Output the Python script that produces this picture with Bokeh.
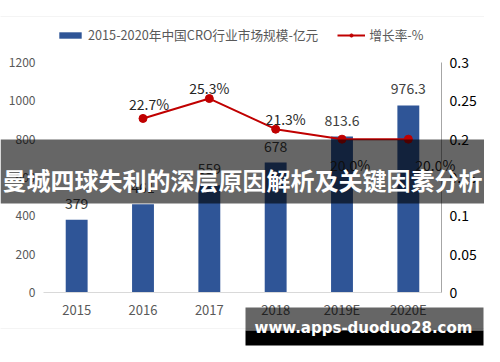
from bokeh.plotting import figure
from bokeh.models import (FactorRange, Range1d, LinearAxis, FixedTicker, CustomJSTickFormatter,
                          Legend, LegendItem, BoxAnnotation, Label, ColumnDataSource)
from bokeh.embed import file_html
from bokeh.resources import INLINE
from bokeh.core.properties import value

# ---------------- data ----------------
years = ["2015", "2016", "2017", "2018", "2019E", "2020E"]
market_size = [379, 461, 559, 678, 813.6, 976.3]
market_labels = ["379", "461", "559", "678", "813.6", "976.3"]
rate_years = ["2016", "2017", "2018", "2019E", "2020E"]
growth_rate = [0.227, 0.253, 0.213, 0.200, 0.200]
rate_labels = ["22.7%", "25.3%", "21.3%", "20.0%", "20.0%"]
left_ticks = [0, 200, 400, 600, 800, 1000, 1200]
right_ticks = [0, 0.05, 0.1, 0.15, 0.2, 0.25, 0.3]
bar_name = "2015-2020年中国CRO行业市场规模-亿元"
line_name = "增长率-%"
banner_text = "曼城四球失利的深层原因解析及关键因素分析"
watermark_text = "www.apps-duoduo28.com"

# label offsets (px) for the rate labels
rate_dx = [6, 0, 10, 8, 27]
rate_dy = [-14, -11, -10, 26, 26]

# ---------------- layout (canvas px) ----------------
FONT = "Noto Sans CJK SC"
W, H = 484, 346
FL, FR, FT, FB = 43, 441, 62, 292          # where the data area sits on the canvas
LMAX, RMAX = 1200, 0.3
BAR_COLOR = "#2F5597"
LINE_COLOR = "#C00000"

n = len(years)
cat_px = (FR - FL) / n
pad = FL / cat_px
ly = LMAX / (FB - FT)
ry = RMAX / (FB - FT)

p = figure(width=W, height=H,
           x_range=FactorRange(factors=years, range_padding=pad, range_padding_units="absolute"),
           y_range=Range1d(-(H - FB) * ly, LMAX + FT * ly),
           output_backend="svg", toolbar_location=None,
           min_border_left=0, min_border_right=0, min_border_top=0, min_border_bottom=0)
p.extra_y_ranges = {"rate": Range1d(-(H - FB) * ry, RMAX + FT * ry)}
p.outline_line_color = None
p.xgrid.visible = False
p.ygrid.visible = False
p.background_fill_color = "white"
p.border_fill_color = "white"

# left axis
yax = p.yaxis[0]
yax.fixed_location = 0
yax.bounds = (0, LMAX)
yax.ticker = FixedTicker(ticks=left_ticks)
yax.axis_line_color = None
yax.major_tick_line_color = None
yax.minor_tick_line_color = None
yax.major_tick_out = 0
yax.major_tick_in = 0
yax.major_label_standoff = 8
yax.major_label_text_font = FONT
yax.major_label_text_font_size = "12px"
yax.major_label_text_color = "#595959"

# bottom axis
xax = p.xaxis[0]
xax.fixed_location = 0
xax.bounds = (0, n)
xax.axis_line_color = "#d9d9d9"
xax.axis_line_width = 1
xax.major_tick_line_color = None
xax.minor_tick_line_color = None
xax.major_tick_out = 0
xax.major_tick_in = 0
xax.major_label_standoff = 7
xax.major_label_text_font = FONT
xax.major_label_text_font_size = "13px"
xax.major_label_text_color = "#595959"

# right axis
rax = LinearAxis(y_range_name="rate", ticker=FixedTicker(ticks=right_ticks))
rax.fixed_location = n
rax.bounds = (0, RMAX)
rax.formatter = CustomJSTickFormatter(
    code="return tick === 0 ? '0' : tick.toFixed(2).replace(/0+$/, '').replace(/\\.$/, '')")
rax.axis_line_color = "#a6a6a6"
rax.major_tick_line_color = None
rax.minor_tick_line_color = None
rax.major_tick_out = 0
rax.major_tick_in = 0
rax.major_label_standoff = 8
rax.major_label_text_font = FONT
rax.major_label_text_font_size = "14px"
rax.major_label_text_color = "#000000"
p.add_layout(rax, "right")

# outer chart border
p.add_layout(BoxAnnotation(left=-5, right=W + 5, top=16, bottom=328,
                           left_units="canvas", right_units="canvas", top_units="canvas",
                           bottom_units="canvas", fill_color=None, line_color="#d9d9d9",
                           line_width=1, level="underlay"))

# bars
bar_src = ColumnDataSource(dict(x=years, top=market_size, lab=market_labels))
bars = p.vbar(x="x", top="top", width=0.33, source=bar_src, fill_color=BAR_COLOR, line_color=None)
p.text(x="x", y="top", text="lab", source=bar_src, y_offset=-16.5, text_align="center",
       text_baseline="middle", text_font=value(FONT), text_font_size="14px", text_color="#404040")

# growth line
rate_src = ColumnDataSource(dict(x=rate_years, y=growth_rate, lab=rate_labels, dx=rate_dx, dy=rate_dy))
line = p.line(x="x", y="y", source=rate_src, y_range_name="rate", line_color=LINE_COLOR, line_width=2)
dots = p.scatter(x="x", y="y", source=rate_src, y_range_name="rate", size=8,
                 fill_color=LINE_COLOR, line_color=LINE_COLOR)
p.text(x="x", y="y", text="lab", source=rate_src, y_range_name="rate", x_offset="dx", y_offset="dy",
       text_align="center", text_baseline="middle", text_font=value(FONT), text_font_size="14px",
       text_color="#262626")

# legend
legend = Legend(items=[LegendItem(label=bar_name, renderers=[bars]),
                       LegendItem(label=line_name, renderers=[line, dots])],
                orientation="horizontal", location=(56, H - 44), glyph_width=28, glyph_height=8,
                label_height=8, label_standoff=4, spacing=19, padding=0, margin=0,
                background_fill_alpha=0, border_line_color=None,
                label_text_font=FONT, label_text_font_size="12.7px", label_text_color="#595959")
p.add_layout(legend, "center")

# dark banner
p.add_layout(BoxAnnotation(left=0, right=W, top=139, bottom=203,
                           left_units="canvas", right_units="canvas", top_units="canvas",
                           bottom_units="canvas", fill_color="black", fill_alpha=0.6,
                           line_color=None, level="overlay"))
p.add_layout(Label(x=W / 2, y=178.5, x_units="canvas", y_units="canvas", text=banner_text,
                   text_align="center", text_baseline="middle", text_font=FONT,
                   text_font_style="bold", text_font_size="24px", text_color="white",
                   level="overlay"))

# watermark
p.add_layout(BoxAnnotation(left=245, right=483, top=307, bottom=330,
                           left_units="canvas", right_units="canvas", top_units="canvas",
                           bottom_units="canvas", fill_color="black", fill_alpha=0.6,
                           line_color=None, level="overlay"))
p.add_layout(BoxAnnotation(left=245, right=483, top=330, bottom=345,
                           left_units="canvas", right_units="canvas", top_units="canvas",
                           bottom_units="canvas", fill_color="black", fill_alpha=1.0,
                           line_color=None, level="overlay"))
p.add_layout(Label(x=363, y=327, x_units="canvas", y_units="canvas", text=watermark_text,
                   text_align="center", text_baseline="middle", text_font="DejaVu Sans",
                   text_font_style="bold", text_font_size="15px", text_color="white",
                   level="overlay"))

open("out.html", "w").write(file_html(p, INLINE))
